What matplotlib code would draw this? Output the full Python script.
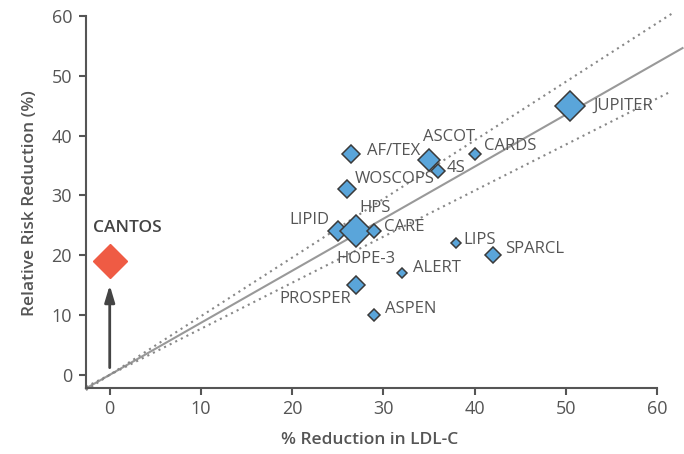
import matplotlib
matplotlib.use("Agg")
import matplotlib.pyplot as plt
import numpy as np

# Statin trials: LDL-C reduction vs relative risk reduction
trials = ["HOPE-3", "JUPITER", "AF/TEX", "ASCOT", "4S", "CARDS", "WOSCOPS", "LIPID",
          "HPS", "CARE", "LIPS", "SPARCL", "ALERT", "PROSPER", "ASPEN"]
ldl_reduction = [27.5, 50.5, 26.5, 35, 36, 40, 26, 25, 27, 29, 38, 42, 32, 27, 29]
risk_reduction = [24, 45, 37, 36, 34, 37, 31, 24, 24, 24, 22, 20, 17, 15, 10]
trial_weight = [7, 15, 9, 11, 7, 6, 9, 10, 16, 7, 5, 8, 5, 9, 6]

# CANTOS (canakinumab): no LDL-C lowering
cantos_ldl = 0
cantos_rrr = 19

# Reference slopes through the origin (regression and its bounds)
slope_fit = 0.87
slope_upper = 0.98
slope_lower = 0.77

x_ticks = [0, 10, 20, 30, 40, 50, 60]
y_ticks = [0, 10, 20, 30, 40, 50, 60]

# label offsets in pixels (dx, dy, horizontal alignment)
label_offsets = {
    "HOPE-3": (-24, -28, "left"), "JUPITER": (23, 0, "left"), "AF/TEX": (16, 3, "left"),
    "ASCOT": (-6, 23, "left"), "4S": (9, 3, "left"), "CARDS": (9, 8, "left"),
    "WOSCOPS": (8, 10, "left"), "LIPID": (-8, 11, "right"), "HPS": (3, 23, "left"),
    "CARE": (10, 4, "left"), "LIPS": (7, 3, "left"), "SPARCL": (12, 6, "left"),
    "ALERT": (11, 5, "left"), "PROSPER": (-5, -14, "right"), "ASPEN": (11, 6, "left"),
}

plt.rcParams["font.family"] = ["Open Sans", "DejaVu Sans"]
text_color = "#555555"
spine_color = "#555555"

fig = plt.figure(figsize=(6.84, 4.54), dpi=100)
ax = fig.add_axes([86 / 684, 1 - 388 / 454, (657 - 86) / 684, (388 - 16) / 454])
xmin, xmax = -2.6, 60
ymin, ymax = -2.2, 60
ax.set_xlim(xmin, xmax)
ax.set_ylim(ymin, ymax)

# reference lines, extended past the axes frame
xl = np.array([xmin, 62.8])
ax.plot(xl, slope_fit * xl, color="#999999", lw=1.5, clip_on=False, zorder=1)
xd = np.array([xmin, 61.6])
ax.plot(xd, slope_upper * xd, color="#888888", lw=1.5, ls=(0, (1, 2)), clip_on=False, zorder=1)
ax.plot(xd, slope_lower * xd, color="#888888", lw=1.5, ls=(0, (1, 2)), clip_on=False, zorder=1)

# trial markers
for name, x, y, w in zip(trials, ldl_reduction, risk_reduction, trial_weight):
    ax.plot([x], [y], marker="D", ms=w, mfc="#5AA5DA", mec="#3a3a3a", mew=1.1,
            ls="none", zorder=3, clip_on=False)
    dx, dy, ha = label_offsets[name]
    ax.annotate(name, (x, y), xytext=(dx, dy), textcoords="offset pixels",
                ha=ha, va="center", fontsize=12, color=text_color, zorder=4)

# CANTOS
ax.plot([cantos_ldl], [cantos_rrr], marker="D", ms=17, mfc="#EF5B44", mec="#EF5B44",
        ls="none", zorder=3, clip_on=False)
ax.annotate("CANTOS", (cantos_ldl, cantos_rrr), xytext=(-17, 33), textcoords="offset pixels",
            ha="left", va="center", fontsize=12.5, color="#444444", fontweight="semibold")
ax.annotate("", xy=(cantos_ldl, 15), xytext=(cantos_ldl, 1.2),
            arrowprops=dict(arrowstyle="-|>,head_width=0.3,head_length=1.0",
                            color="#444444", lw=2, shrinkA=0, shrinkB=0))

# axes styling
ax.spines["top"].set_visible(False)
ax.spines["right"].set_visible(False)
for s in ("left", "bottom"):
    ax.spines[s].set_color(spine_color)
    ax.spines[s].set_linewidth(1.5)
ax.set_xticks(x_ticks)
ax.set_yticks(y_ticks)
ax.tick_params(direction="out", length=5, width=1.5, color=spine_color,
               labelcolor=text_color, labelsize=13)
ax.tick_params(axis="x", pad=4)
ax.tick_params(axis="y", pad=5)
ax.set_xlabel("% Reduction in LDL-C", fontsize=12.5, color=text_color,
              fontweight="semibold", va="center")
ax.set_ylabel("Relative Risk Reduction (%)", fontsize=12.5, color=text_color,
              fontweight="semibold", va="center")
ax.xaxis.set_label_coords((370 - 86) / 571, (388 - 440) / 372)
ax.yaxis.set_label_coords((30 - 86) / 571, (388 - 203) / 372)

fig.savefig("out.png", dpi=100)
